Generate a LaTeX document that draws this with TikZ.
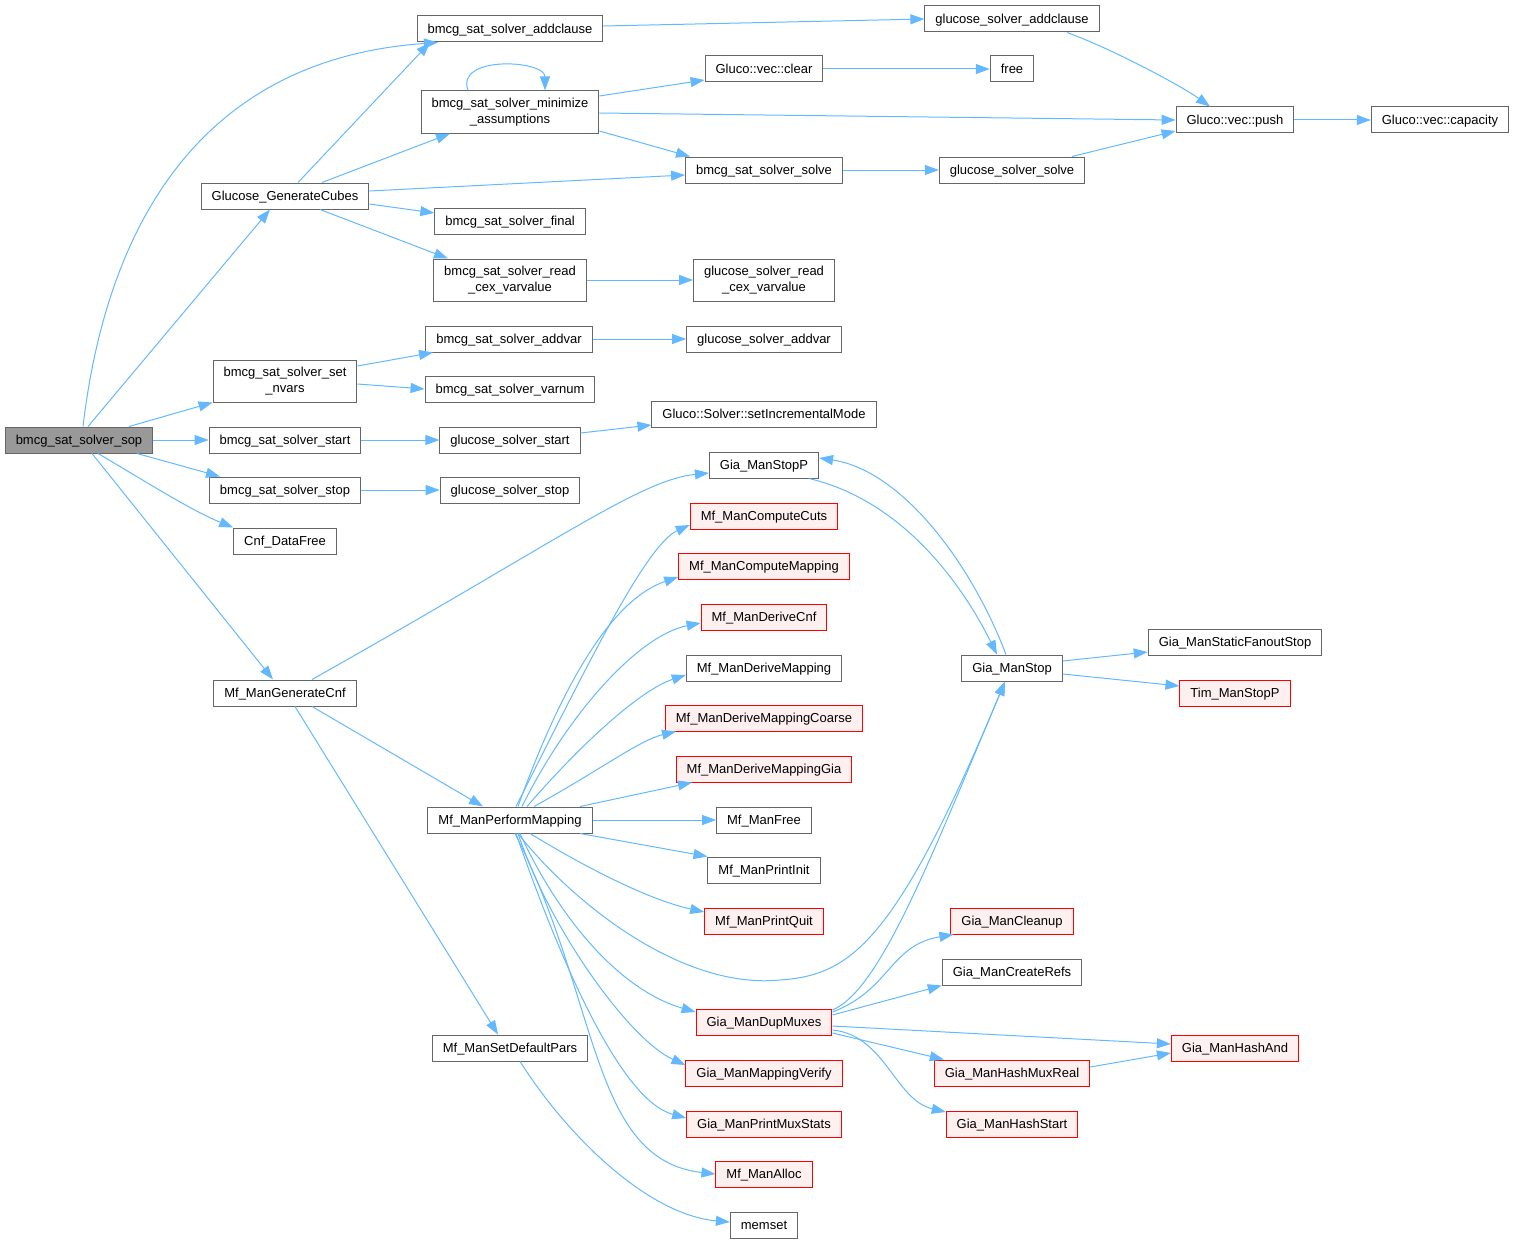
\documentclass[tikz,border=0pt]{standalone}
\usepackage{fontspec}
\setmainfont{Liberation Sans}
\usetikzlibrary{arrows.meta}
\definecolor{edgeblue}{HTML}{63B8FF}
\definecolor{boxgray}{HTML}{666666}
\definecolor{rootgray}{HTML}{999999}
\definecolor{redfill}{HTML}{FFF0F0}

\begin{document}
\begin{tikzpicture}[x=1pt,y=-1pt,
  fnbase/.style={draw=boxgray,line width=1pt,fill=white,inner xsep=10.5pt,font=\fontsize{13}{16}\selectfont},
  fn/.style={fnbase,inner ysep=0pt,minimum height=26pt,text height=11pt,text depth=2pt},
  fntwo/.style={fnbase,inner ysep=7pt,align=center},
  fnred/.style={fn,draw=red,fill=redfill},
  fnroot/.style={fn,fill=rootgray},
  call/.style={edgeblue,line width=1pt,-{Triangle[length=14pt,width=10pt]}}]
\useasboundingbox (0,0) rectangle (1517,1244);
\node[fnroot] (sop) at (79,440) {{bmcg\_sat\_solver\_sop}};
\node[fn] (addclause) at (510,29) {{bmcg\_sat\_solver\_addclause}};
\node[fntwo] (minimize) at (510,112) {bmcg\_sat\_solver\_minimize\\\_assumptions};
\node[fn] (cubes) at (285,196) {{Glucose\_GenerateCubes}};
\node[fn] (final) at (510,221) {{bmcg\_sat\_solver\_final}};
\node[fntwo] (readcex) at (510,280) {bmcg\_sat\_solver\_read\\\_cex\_varvalue};
\node[fntwo] (setnvars) at (285,381) {bmcg\_sat\_solver\_set\\\_nvars};
\node[fn] (start) at (285,440) {{bmcg\_sat\_solver\_start}};
\node[fn] (stop) at (285,490) {{bmcg\_sat\_solver\_stop}};
\node[fn] (cnffree) at (285,541) {{Cnf\_DataFree}};
\node[fn] (gencnf) at (285,693) {{Mf\_ManGenerateCnf}};
\node[fn] (addvar) at (509,339) {{bmcg\_sat\_solver\_addvar}};
\node[fn] (varnum) at (510,389) {{bmcg\_sat\_solver\_varnum}};
\node[fn] (gstart) at (510,440) {{glucose\_solver\_start}};
\node[fn] (gstop) at (510,490) {{glucose\_solver\_stop}};
\node[fn] (perform) at (510,820) {{Mf\_ManPerformMapping}};
\node[fn] (setdef) at (510,1048) {{Mf\_ManSetDefaultPars}};
\node[fn] (gaddclause) at (1012,19) {{glucose\_solver\_addclause}};
\node[fn] (vclear) at (764,69) {{Gluco::vec::clear}};
\node[fn] (free) at (1012,69) {{free}};
\node[fn] (vpush) at (1235,120) {{Gluco::vec::push}};
\node[fn] (vcapacity) at (1440,120) {{Gluco::vec::capacity}};
\node[fn] (solve) at (764,170) {{bmcg\_sat\_solver\_solve}};
\node[fn] (gsolve) at (1012,170) {{glucose\_solver\_solve}};
\node[fntwo] (greadcex) at (764,280) {glucose\_solver\_read\\\_cex\_varvalue};
\node[fn] (gaddvar) at (764,339) {{glucose\_solver\_addvar}};
\node[fn] (setinc) at (764,414) {{Gluco::Solver::setIncrementalMode}};
\node[fn] (stopp) at (764,465) {{Gia\_ManStopP}};
\node[fnred] (cuts) at (764,516) {{Mf\_ManComputeCuts}};
\node[fnred] (compmap) at (764,566) {{Mf\_ManComputeMapping}};
\node[fnred] (derivecnf) at (764,617) {{Mf\_ManDeriveCnf}};
\node[fn] (derivemap) at (764,668) {{Mf\_ManDeriveMapping}};
\node[fnred] (coarse) at (764,718) {{Mf\_ManDeriveMappingCoarse}};
\node[fnred] (derivegia) at (764,769) {{Mf\_ManDeriveMappingGia}};
\node[fn] (mffree) at (764,820) {{Mf\_ManFree}};
\node[fn] (printinit) at (764,870) {{Mf\_ManPrintInit}};
\node[fnred] (printquit) at (764,921) {{Mf\_ManPrintQuit}};
\node[fnred] (dupmuxes) at (764,1022) {{Gia\_ManDupMuxes}};
\node[fnred] (verify) at (764,1073) {{Gia\_ManMappingVerify}};
\node[fnred] (muxstats) at (764,1124) {{Gia\_ManPrintMuxStats}};
\node[fnred] (alloc) at (764,1174) {{Mf\_ManAlloc}};
\node[fn] (memset) at (764,1225) {{memset}};
\node[fn] (giastop) at (1012,668) {{Gia\_ManStop}};
\node[fnred] (cleanup) at (1012,921) {{Gia\_ManCleanup}};
\node[fn] (createrefs) at (1012,972) {{Gia\_ManCreateRefs}};
\node[fnred] (muxreal) at (1012,1073) {{Gia\_ManHashMuxReal}};
\node[fnred] (hashstart) at (1012,1124) {{Gia\_ManHashStart}};
\node[fn] (fanoutstop) at (1235,642) {{Gia\_ManStaticFanoutStop}};
\node[fnred] (timstopp) at (1235,693) {{Tim\_ManStopP}};
\node[fnred] (hashand) at (1235,1048) {{Gia\_ManHashAnd}};
\draw[call] ([xshift=4pt]sop.north) .. controls (105,240) and (190,60) .. ([xshift=-72pt]addclause.south);
\draw[call] ([xshift=9pt]sop.north) -- ([xshift=-15pt]cubes.south);
\draw[call] ([xshift=50pt]sop.north) -- (setnvars.south west);
\draw[call] (sop) -- (start);
\draw[call] ([xshift=58pt]sop.south) -- ([xshift=-65pt]stop.north);
\draw[call] ([xshift=19pt]sop.south) .. controls (140,478) and (190,510) .. (cnffree.north west);
\draw[call] ([xshift=13pt]sop.south) -- ([xshift=-12pt]gencnf.north);
\draw[call] ([xshift=13pt]cubes.north) -- ([xshift=-80pt]addclause.south);
\draw[call] ([xshift=37pt]cubes.north) -- ([xshift=-60pt]minimize.south);
\draw[call] ([yshift=5pt]cubes.east) -- ([yshift=-5pt]solve.west);
\draw[call] ([yshift=-8pt]cubes.east) -- ([yshift=8pt]final.west);
\draw[call] ([xshift=35pt]cubes.south) -- ([xshift=-62pt]readcex.north);
\draw[call] ([yshift=3pt]addclause.east) -- (gaddclause.west);
\draw[call] ([xshift=-42pt]minimize.north) .. controls (455,55) and (545,60) .. ([xshift=35pt]minimize.north);
\draw[call] ([yshift=16pt]minimize.east) -- ([yshift=-11pt]vclear.west);
\draw[call] ([yshift=-1pt]minimize.east) -- (vpush.west);
\draw[call] ([yshift=-19pt]minimize.east) -- ([xshift=-74pt]solve.north);
\draw[call] (readcex) -- (greadcex);
\draw[call] ([yshift=15pt]setnvars.east) -- ([xshift=-76pt]addvar.south);
\draw[call] ([yshift=-3pt]setnvars.east) -- (varnum.west);
\draw[call] (start) -- (gstart);
\draw[call] (stop) -- (gstop);
\draw[call] (addvar) -- (gaddvar);
\draw[call] ([yshift=7pt]gstart.east) -- ([yshift=-11pt]setinc.west);
\draw[call] ([xshift=27pt]gencnf.north) .. controls (560,540) and (640,480) .. ([yshift=-8pt]stopp.west);
\draw[call] ([xshift=27pt]gencnf.south) -- ([xshift=-27pt]perform.north);
\draw[call] ([xshift=10pt]gencnf.south) -- ([xshift=-12pt]setdef.north);
\draw[call] ([xshift=10pt]setdef.south) .. controls (570,1140) and (650,1215) .. ([yshift=3pt]memset.west);
\draw[call] ([xshift=55pt]gaddclause.south) .. controls (1110,48) and (1180,85) .. ([xshift=-25pt]vpush.north);
\draw[call] (vclear) -- (free);
\draw[call] (vpush) -- (vcapacity);
\draw[call] (solve) -- (gsolve);
\draw[call] ([xshift=60pt]gsolve.north) -- ([yshift=-11pt]vpush.west);
\draw[call] ([xshift=45pt]stopp.south) .. controls (900,500) and (960,580) .. ([xshift=-15pt]giastop.north);
\draw[call] ([xshift=-6pt]giastop.north) .. controls (970,560) and (900,470) .. ([yshift=7pt]stopp.east);
\draw[call] ([yshift=7pt]giastop.east) -- ([yshift=-10pt]fanoutstop.west);
\draw[call] ([yshift=-6pt]giastop.east) -- ([yshift=7pt]timstopp.west);
\draw[call] ([xshift=6pt]perform.north) .. controls (580,680) and (645,545) .. ([yshift=-9pt]cuts.west);
\draw[call] ([xshift=8pt]perform.north) .. controls (560,690) and (610,600) .. ([yshift=-11pt]compmap.west);
\draw[call] ([xshift=12pt]perform.north) .. controls (570,710) and (640,635) .. ([yshift=-6pt]derivecnf.west);
\draw[call] ([xshift=17pt]perform.north) .. controls (580,745) and (640,690) .. ([yshift=-7pt]derivemap.west);
\draw[call] ([xshift=24pt]perform.north) .. controls (600,770) and (640,740) .. ([xshift=-88pt]coarse.south);
\draw[call] ([xshift=70pt]perform.north) -- ([xshift=-72pt]derivegia.south);
\draw[call] (perform) -- (mffree);
\draw[call] ([xshift=70pt]perform.south) -- (printinit.north west);
\draw[call] ([xshift=20pt]perform.south) .. controls (590,870) and (650,900) .. ([yshift=9pt]printquit.west);
\draw[call] ([xshift=8pt]perform.south) .. controls (570,900) and (680,990) .. (780,980) .. controls (850,975) and (895,945) .. ([xshift=-7pt]giastop.south);
\draw[call] ([xshift=10pt]perform.south) .. controls (560,920) and (620,990) .. ([yshift=10pt]dupmuxes.west);
\draw[call] ([xshift=8pt]perform.south) .. controls (550,930) and (630,1040) .. ([yshift=8pt]verify.west);
\draw[call] ([xshift=6pt]perform.south) .. controls (560,960) and (620,1100) .. ([yshift=6pt]muxstats.west);
\draw[call] ([xshift=5pt]perform.south) .. controls (600,1000) and (590,1160) .. (alloc.west);
\draw[call] ([yshift=12pt]dupmuxes.east) .. controls (880,990) and (930,860) .. ([xshift=-7pt]giastop.south);
\draw[call] ([yshift=10pt]dupmuxes.east) .. controls (890,990) and (890,945) .. ([xshift=3pt]cleanup.south west);
\draw[call] ([yshift=7pt]dupmuxes.east) -- (createrefs.south west);
\draw[call] ([yshift=-4pt]dupmuxes.east) -- ([yshift=4pt]hashand.west);
\draw[call] ([yshift=-11pt]dupmuxes.east) -- ([xshift=10pt]muxreal.north west);
\draw[call] ([yshift=-8pt]dupmuxes.east) .. controls (885,1035) and (895,1100) .. ([yshift=12pt]hashstart.west);
\draw[call] ([yshift=6pt]muxreal.east) -- ([yshift=-5pt]hashand.west);
\end{tikzpicture}
\end{document}
